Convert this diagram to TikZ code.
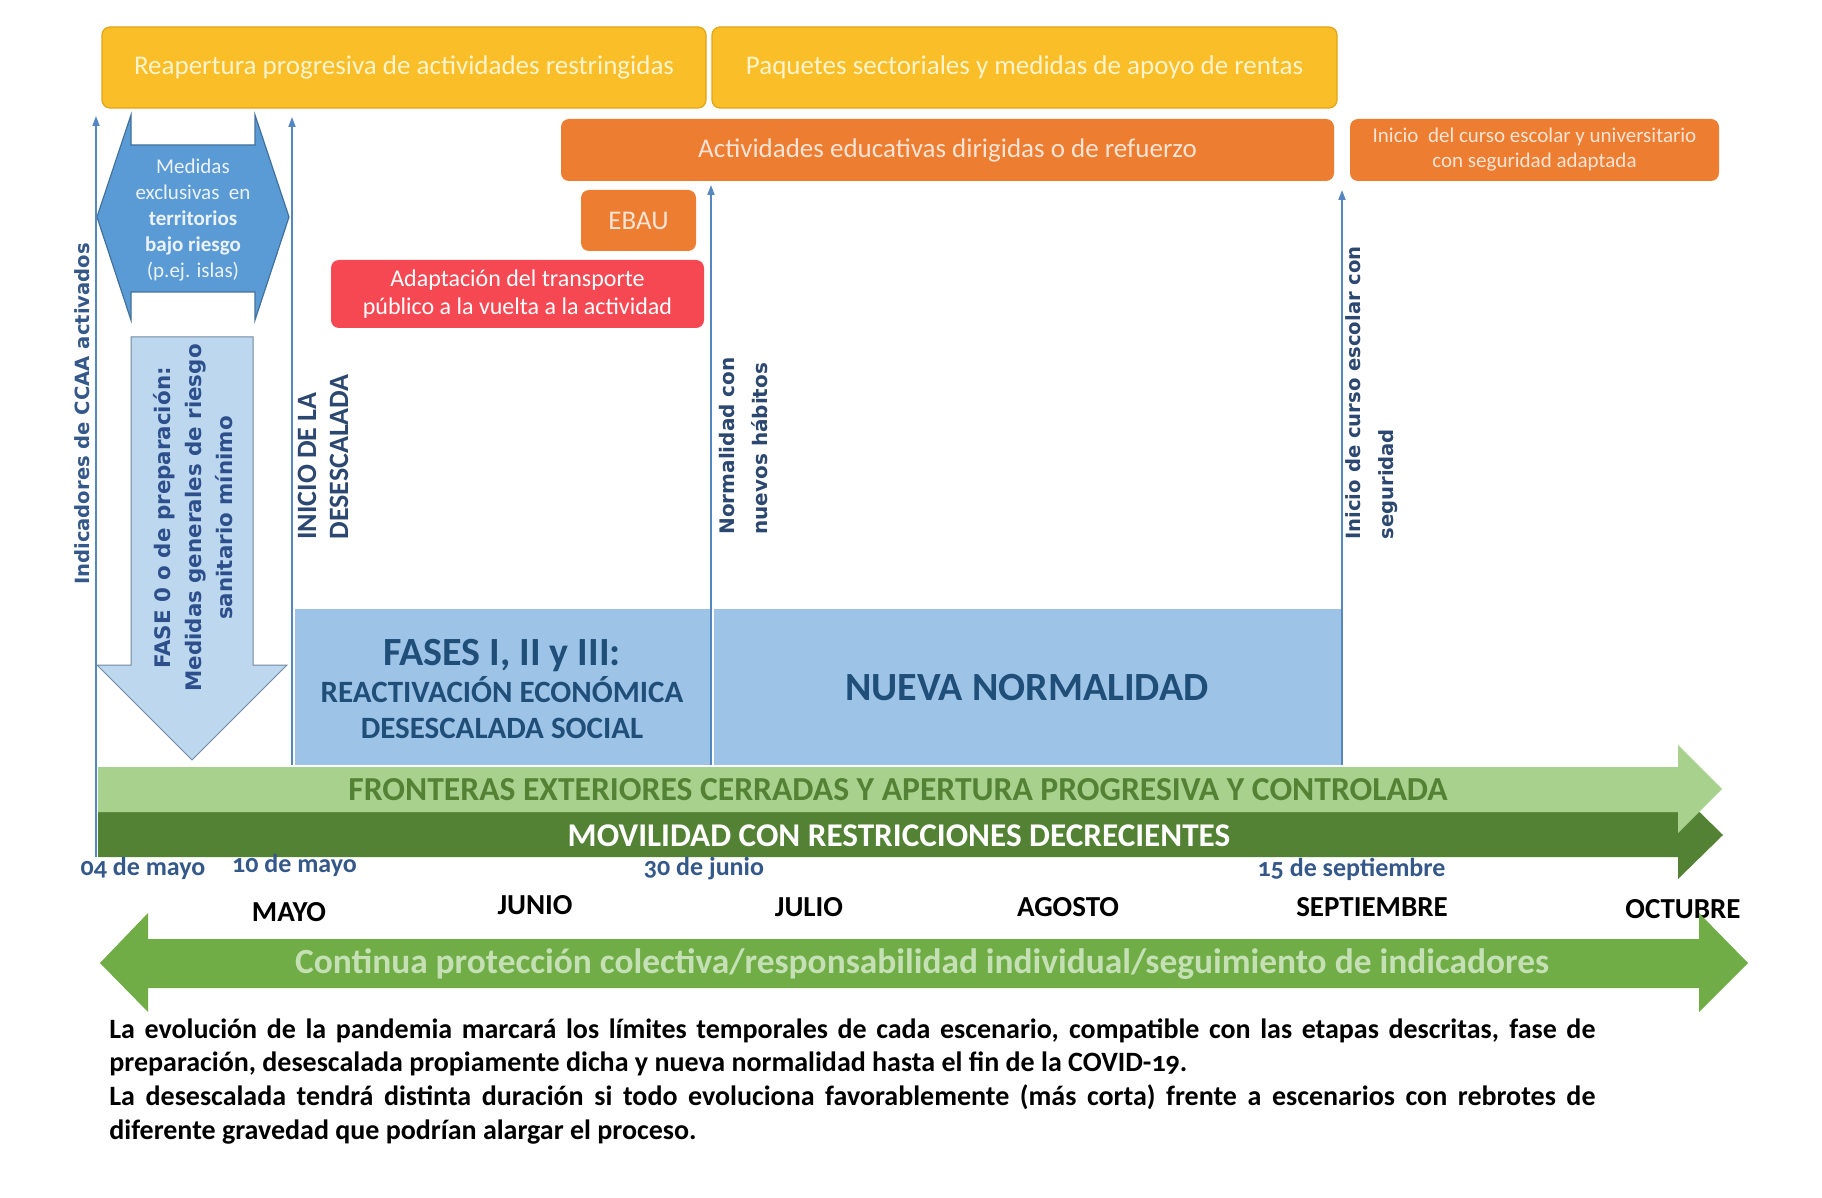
\documentclass[tikz,border=0pt]{standalone}
\usepackage{fontspec}
\setmainfont{Carlito}[Numbers=OldStyle]
\newfontfamily\verd{DejaVu Sans}
\usetikzlibrary{arrows.meta}

\definecolor{gold}{RGB}{249,190,40}
\definecolor{goldline}{RGB}{226,165,20}
\definecolor{goldtext}{RGB}{255,244,205}
\definecolor{orng}{RGB}{237,125,49}
\definecolor{orngtext}{RGB}{252,228,214}
\definecolor{redbox}{RGB}{245,72,82}
\definecolor{midblue}{RGB}{91,155,213}
\definecolor{midblueline}{RGB}{65,113,156}
\definecolor{paleblue}{RGB}{189,215,238}
\definecolor{phaseblue}{RGB}{157,195,230}
\definecolor{navy}{RGB}{31,78,121}
\definecolor{slate}{RGB}{44,72,112}
\definecolor{fasecol}{RGB}{45,80,140}
\definecolor{datecol}{RGB}{52,88,138}
\definecolor{lineblue}{RGB}{84,134,192}
\definecolor{lightgreen}{RGB}{169,209,142}
\definecolor{darkgreen}{RGB}{84,130,53}
\definecolor{midgreen}{RGB}{112,173,71}
\definecolor{palegreen}{RGB}{197,224,180}

\tikzset{
  box/.style={rounded corners=4pt,inner sep=0pt,align=center},
  yellowbox/.style={box,fill=gold,draw=goldline,line width=0.6pt,text=goldtext,
    font=\fontsize{13.5}{16}\selectfont},
  orangebox/.style={box,fill=orng,text=orngtext},
  vlabel/.style={rotate=90,anchor=west,inner sep=0pt,align=left,text=slate},
  timeline/.style={lineblue,line width=0.9pt,-{Triangle[length=5pt,width=3.5pt]}},
  date/.style={text=datecol,font=\bfseries\fontsize{13}{15}\selectfont},
  month/.style={font=\bfseries\fontsize{14.5}{17}\selectfont}
}

\begin{document}
\begin{tikzpicture}[x=0.5pt,y=-0.5pt]
  \fill[white] (0,0) rectangle (1822,1198);
  \useasboundingbox (0,0) rectangle (1822,1198);

  % measures on top
  \node[yellowbox,minimum width=302pt,minimum height=40.5pt] (reap) at (404,67.5)
    {Reapertura progresiva de actividades restringidas};
  \node[yellowbox,minimum width=312.5pt,minimum height=40.5pt] (paq) at (1024.5,67.5)
    {Paquetes sectoriales y medidas de apoyo de rentas};
  \node[orangebox,minimum width=386.5pt,minimum height=31pt,
    font=\fontsize{13.5}{16}\selectfont] (act) at (947.5,150)
    {Actividades educativas dirigidas o de refuerzo};
  \node[orangebox,minimum width=184.5pt,minimum height=31pt,
    font=\fontsize{10.5}{12.5}\selectfont] (curso) at (1534.5,150)
    {Inicio\ \ del curso escolar y universitario\\con seguridad adaptada};
  \node[orangebox,minimum width=57.5pt,minimum height=30.5pt,
    font=\fontsize{13.5}{16}\selectfont] (ebau) at (638.5,220.5) {EBAU};
  \node[box,fill=redbox,text=white,minimum width=186.5pt,minimum height=34pt,
    font=\fontsize{12}{14}\selectfont] (trans) at (517.5,294)
    {Adaptación del transporte\\público a la vuelta a la actividad};

  % left column
  \draw[fill=midblue,draw=midblueline,line width=0.6pt]
    (131,115) -- (131,145) -- (255,145) -- (255,115) -- (289,217) -- (255,320)
    -- (255,292) -- (131,292) -- (131,320) -- (97,217) -- cycle;
  \node[text={rgb,255:red,235;green,242;blue,250},align=center,
    font=\fontsize{10.5}{13}\selectfont] (excl) at (193,220)
    {Medidas\\exclusivas\ \ en\\\textbf{territorios}\\\textbf{bajo riesgo}\\(p.ej. islas)};
  \draw[fill=paleblue,draw=gray!60!midblue,line width=0.5pt]
    (131,337) -- (253,337) -- (253,665) -- (287,665) -- (192,760) -- (97,665)
    -- (131,665) -- cycle;
  \node[rotate=90,text=fasecol,align=center,
    font=\verd\bfseries\fontsize{10.7}{15.5}\selectfont] (fase0) at (193,518)
    {FASE 0 o de preparación:\\Medidas generales de riesgo\\sanitario mínimo};

  % phases
  \node[fill=phaseblue,minimum width=207.5pt,minimum height=78pt,inner sep=0pt] (fases) at (502.5,687) {};
  \node[fill=phaseblue,minimum width=313.5pt,minimum height=78pt,inner sep=0pt] (nueva) at (1027.5,687) {};
  \node[anchor=base,text=navy,font=\bfseries\fontsize{20}{24}\selectfont] (fasesT) at (502,665) {FASES I, II y III:};
  \node[anchor=base,text=navy,font=\bfseries\fontsize{15.5}{18}\selectfont] (reac) at (502,702) {REACTIVACIÓN ECONÓMICA};
  \node[anchor=base,text=navy,font=\bfseries\fontsize{15.5}{18}\selectfont] (soc) at (502,738) {DESESCALADA SOCIAL};
  \node[anchor=base,text=navy,font=\bfseries\fontsize{20}{24}\selectfont] (nuevaT) at (1027,700) {NUEVA NORMALIDAD};

  % milestones
  \coordinate (ccaaB) at (96,857);   \coordinate (ccaaT) at (96,116);
  \coordinate (descB) at (292,765);  \coordinate (descT) at (292,117);
  \coordinate (junB) at (711,765);   \coordinate (junT) at (711,185);
  \coordinate (sepB) at (1342,765);  \coordinate (sepT) at (1342,190);
  \draw[timeline] (ccaaB) -- (ccaaT);
  \draw[timeline] (descB) -- (descT);
  \draw[timeline] (junB) -- (junT);
  \draw[timeline] (sepB) -- (sepT);

  \node[rotate=90,text=datecol,font=\verd\bfseries\fontsize{9.8}{12}\selectfont] (ccaa) at (82,414)
    {Indicadores de CCAA activados};
  \node[vlabel,font=\bfseries\fontsize{14}{16}\selectfont] (inicio) at (323,540)
    {INICIO DE LA\\DESESCALADA};
  \node[vlabel,font=\verd\bfseries\fontsize{10}{16.5}\selectfont] (habitos) at (744,535)
    {Normalidad con\\nuevos hábitos};
  \node[vlabel,font=\verd\bfseries\fontsize{9.8}{16.5}\selectfont] (escolar) at (1372,540)
    {Inicio de curso escolar con\\seguridad};

  % bands
  \fill[darkgreen] (98,812) -- (1678,812) -- (1678,791) -- (1723,835) -- (1678,879)
    -- (1678,857) -- (98,857) -- cycle;
  \fill[lightgreen] (98,767) -- (1678,767) -- (1678,745) -- (1722,789) -- (1678,833)
    -- (1678,812) -- (98,812) -- cycle;
  \node[text=darkgreen,font=\bfseries\fontsize{16.8}{19}\selectfont] (front) at (898,790)
    {FRONTERAS EXTERIORES CERRADAS Y APERTURA PROGRESIVA Y CONTROLADA};
  \node[text=white,font=\bfseries\fontsize{16.6}{19}\selectfont] (movil) at (899,836)
    {MOVILIDAD CON RESTRICCIONES DECRECIENTES};

  % dates and months
  \node[date] (d04) at (143,868) {04 de mayo};
  \node[date] (d10) at (294.5,865) {10 de mayo};
  \node[date] (d30) at (704,869) {30 de junio};
  \node[date] (d15) at (1351.5,869) {15 de septiembre};
  \node[month] (mayo) at (289,912) {MAYO};
  \node[month] (junio) at (535,905) {JUNIO};
  \node[month] (julio) at (809,907) {JULIO};
  \node[month] (agosto) at (1068,907) {AGOSTO};
  \node[month] (sept) at (1372,907) {SEPTIEMBRE};
  \node[month] (oct) at (1683,909) {OCTUBRE};

  \fill[midgreen] (100,963) -- (148,913) -- (148,939) -- (1699,939) -- (1699,913)
    -- (1748,963) -- (1699,1012) -- (1699,988) -- (148,988) -- (148,1012) -- cycle;
  \node[text=palegreen,font=\bfseries\fontsize{17.7}{20}\selectfont] (prot) at (922,964)
    {Continua protección colectiva/responsabilidad individual/seguimiento de indicadores};

  % note
  \node[anchor=north west,inner sep=0pt,text width=743pt,align=justify,
    font=\bfseries\fontsize{14}{16.85}\selectfont] (nota) at (109,1018)
    {\hyphenpenalty=10000 La evolución de la pandemia marcará los límites temporales de cada escenario, compatible con las etapas descritas, fase de\linebreak
     preparación, desescalada propiamente dicha y nueva normalidad hasta el fin de la COVID-19.\\
     La desescalada tendrá distinta duración si todo evoluciona favorablemente (más corta) frente a escenarios con rebrotes de\linebreak
     diferente gravedad que podrían alargar el proceso.};
\end{tikzpicture}
\end{document}
